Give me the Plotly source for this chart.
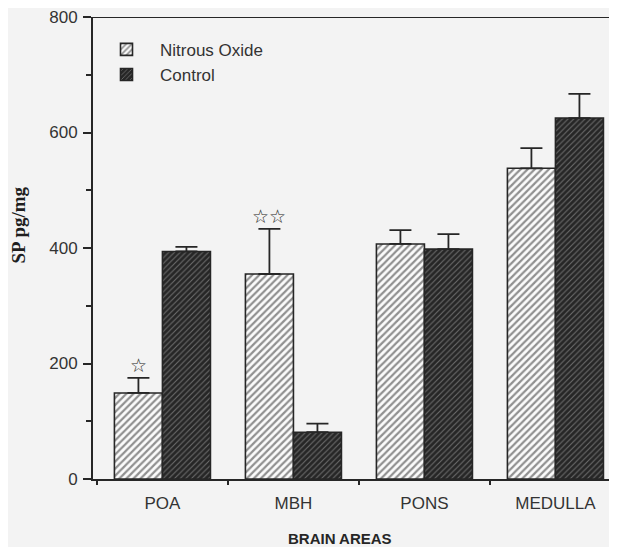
import plotly.graph_objects as go

areas = ["POA", "MBH", "PONS", "MEDULLA"]
nitrous = [149, 355, 407, 538]
nitrous_err = [26, 78, 24, 35]
control = [394, 81, 398, 625]
control_err = [8, 15, 26, 42]
stars = ["☆", "☆☆", "", ""]

y_ticks = [0, 200, 400, 600, 800]

ink = "#262626"
paper = "#f3f3f3"

fig = go.Figure()
fig.add_trace(go.Bar(
    name="Nitrous Oxide", x=areas, y=nitrous,
    marker=dict(color="white", line=dict(color=ink, width=1.6),
                pattern=dict(shape="/", bgcolor="#fbfbfb", fgcolor="#262626",
                             size=5, solidity=0.45)),
    error_y=dict(type="data", array=nitrous_err, arrayminus=[0]*4, symmetric=False,
                 color=ink, thickness=1.8, width=11),
))
fig.add_trace(go.Bar(
    name="Control", x=areas, y=control,
    marker=dict(color="#2b2b2b", line=dict(color=ink, width=1.6),
                pattern=dict(shape="/", bgcolor="#262626", fgcolor="#b0b0b0",
                             size=4, solidity=0.28)),
    error_y=dict(type="data", array=control_err, arrayminus=[0]*4, symmetric=False,
                 color=ink, thickness=1.8, width=11),
))

for a, v, e, s in zip(areas, nitrous, nitrous_err, stars):
    if s:
        fig.add_annotation(x=a, y=v + e, xref="x", yref="y", text=s, showarrow=False,
                           xshift=-24, yshift=0, yanchor="bottom",
                           font=dict(family="DejaVu Sans", size=19, color=ink))

fig.add_annotation(x=0.471, xref="paper", y=-0.106, yref="paper", text="BRAIN AREAS",
                   showarrow=False, xanchor="center", yanchor="top",
                   font=dict(family="Liberation Sans", size=15, color=ink, weight="bold"))

fig.add_annotation(x=-0.142, xref="paper", y=0.55, yref="paper", text="SP pg/mg",
                   showarrow=False, xanchor="center", yanchor="middle", textangle=-90,
                   font=dict(family="Liberation Serif", size=19, color="#1e1e1e",
                             weight="bold"))

fig.update_layout(
    width=609, height=539,
    margin=dict(l=85, r=0, t=9, b=68),
    paper_bgcolor=paper, plot_bgcolor=paper,
    barmode="group", bargap=0.267, bargroupgap=0,
    font=dict(family="Liberation Sans", size=17, color="#333333"),
    showlegend=True,
    legend=dict(x=0.0, y=0.968, xanchor="left", yanchor="top", bgcolor="rgba(0,0,0,0)",
                itemwidth=57, font=dict(size=17, color="#333333"), tracegroupgap=0),
    xaxis=dict(range=[-0.53, 3.47], showline=True, linecolor=ink, linewidth=2,
               ticks="outside", tickson="boundaries", ticklen=4, tickwidth=1.5,
               tickcolor=ink, showgrid=False, zeroline=False, ticklabelstandoff=8),
    yaxis=dict(range=[0, 800], tickvals=y_ticks, showline=True, linecolor=ink, linewidth=2,
               ticks="outside", ticklen=8, tickwidth=1.5, tickcolor=ink,
               minor=dict(dtick=100, ticks="outside", ticklen=5, tickwidth=1.5, tickcolor=ink),
               showgrid=False, zeroline=False, ticklabelstandoff=2,
               ticklabeloverflow="allow"),
)

fig.add_shape(type="line", xref="paper", yref="y", x0=0, x1=1, y0=800, y1=800,
              line=dict(color=ink, width=2))

fig.write_html("out.html")
